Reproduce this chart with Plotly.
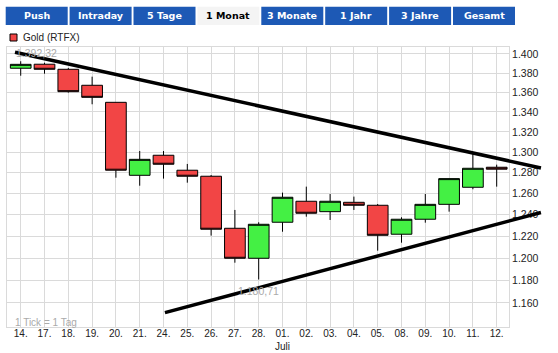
import math
import plotly.graph_objects as go

# ---------------- data ----------------
categories = ["14.", "17.", "18.", "19.", "20.", "21.", "24.", "25.", "26.", "27.", "28.",
              "01.", "02.", "03.", "04.", "05.", "08.", "09.", "10.", "11.", "12."]
open_ = [1385.0, 1389.2, 1383.9, 1367.3, 1349.8, 1277.4, 1296.9, 1282.3, 1276.5, 1227.3, 1199.8,
         1232.9, 1252.6, 1242.8, 1251.6, 1248.8, 1221.8, 1235.7, 1249.7, 1265.9, 1285.2]
high = [1392.32, 1390.8, 1385.3, 1376.2, 1349.8, 1301.1, 1301.1, 1288.4, 1277.7, 1244.4, 1232.9,
        1260.8, 1266.5, 1259.5, 1257.0, 1250.0, 1237.5, 1259.5, 1274.2, 1298.8, 1287.7]
low = [1377.2, 1379.3, 1359.7, 1347.8, 1275.1, 1267.4, 1274.2, 1270.3, 1220.5, 1195.8, 1180.71,
       1224.1, 1238.1, 1235.0, 1244.4, 1206.7, 1214.0, 1232.5, 1242.8, 1264.0, 1266.5]
close = [1389.1, 1383.9, 1360.7, 1354.9, 1282.3, 1292.9, 1288.1, 1276.5, 1226.4, 1199.8, 1231.0,
         1256.4, 1241.3, 1252.6, 1248.8, 1220.8, 1235.7, 1249.7, 1274.2, 1284.2, 1283.3]

y_ticks = [1160, 1180, 1200, 1220, 1240, 1260, 1280, 1300, 1320, 1340, 1360, 1380, 1400]
y_ticktext = ["1.160", "1.180", "1.200", "1.220", "1.240", "1.260", "1.280", "1.300",
              "1.320", "1.340", "1.360", "1.380", "1.400"]

# trend lines: (category index, price)
trend_upper_x = [-0.24, 21.86]
trend_upper_y = [1401.8, 1284.5]
trend_lower_x = [6.06, 21.86]
trend_lower_y = [1151.5, 1242.0]

tabs = ["Push", "Intraday", "5 Tage", "1 Monat", "3 Monate", "1 Jahr", "3 Jahre", "Gesamt"]
active_tab = "1 Monat"

series_name = "Gold (RTFX)"
max_label = "1.392,32"
min_label = "1.180,71"
month_label = "Juli"
month_index = 11
footnote = "1 Tick = 1 Tag"

# ---------------- layout geometry ----------------
W, H = 558, 353
L, R, T, B = 7, 49, 47, 26
PW, PH = W - L - R, H - T - B
x_range = [-0.576, 20.517]
y_range = [math.log10(1139.1), math.log10(1407.4)]

GREEN = "#44f044"
RED = "#f24545"
BLUE = "#1d59b5"
GRID = "#dadada"
FONT = "Liberation Sans, Arial, sans-serif"


def xp(px):
    return (px - L) / PW


def yp(py):
    return (T + PH - py) / PH


def data_x_paper(v):
    return (v - x_range[0]) / (x_range[1] - x_range[0])


def data_y_paper(v):
    return (math.log10(v) - y_range[0]) / (y_range[1] - y_range[0])


x_idx = list(range(len(categories)))
x_ticktext = [c + ("<br>" + month_label if i == month_index else "") for i, c in enumerate(categories)]

fig = go.Figure()
fig.add_trace(go.Candlestick(
    x=x_idx, open=open_, high=high, low=low, close=close,
    increasing=dict(fillcolor=GREEN, line=dict(color="black", width=1)),
    decreasing=dict(fillcolor=RED, line=dict(color="black", width=1)),
    whiskerwidth=0, hoverinfo="skip", showlegend=False, name=series_name,
))

shapes = []
annotations = []

# trend lines (paper coords so they can run past the plot edge)
for xs, ys in [(trend_upper_x, trend_upper_y), (trend_lower_x, trend_lower_y)]:
    shapes.append(dict(type="line", xref="paper", yref="paper",
                       x0=data_x_paper(xs[0]), y0=data_y_paper(ys[0]),
                       x1=data_x_paper(xs[1]), y1=data_y_paper(ys[1]),
                       line=dict(color="black", width=3.5), layer="above"))

# tabs
tab_left0, tab_step, tab_w = 5.7, 63.9, 62.0
for i, t in enumerate(tabs):
    x0 = tab_left0 + i * tab_step
    active = (t == active_tab)
    shapes.append(dict(type="rect", xref="paper", yref="paper",
                       x0=xp(x0), x1=xp(x0 + tab_w), y0=yp(25), y1=yp(6.7),
                       fillcolor="#f4f4f4" if active else BLUE, line=dict(width=0), layer="above"))
    annotations.append(dict(xref="paper", yref="paper", x=xp(x0 + tab_w / 2), y=yp(16),
                            text="<b>%s</b>" % t, showarrow=False, xanchor="center", yanchor="middle",
                            font=dict(family="Verdana, DejaVu Sans, sans-serif", size=9.5,
                                      color="black" if active else "white")))

# legend
shapes.append(dict(type="rect", xref="paper", yref="paper",
                   x0=xp(10), x1=xp(17), y0=yp(41), y1=yp(34),
                   fillcolor=RED, line=dict(color="black", width=1), layer="above"))
annotations.append(dict(xref="paper", yref="paper", x=xp(20.5), y=yp(37.7), text=series_name,
                        showarrow=False, xanchor="left", yanchor="middle",
                        font=dict(family=FONT, size=10, color="#222")))

# max / min labels
annotations.append(dict(x=0, y=math.log10(max(high)), text=max_label, showarrow=False,
                        xanchor="left", yanchor="bottom", xshift=-7, yshift=0,
                        font=dict(family=FONT, size=10.5, color="#aaaaaa")))
imin = low.index(min(low))
annotations.append(dict(x=imin, y=math.log10(min(low)), text=min_label, showarrow=False,
                        xanchor="center", yanchor="top", yshift=-3,
                        font=dict(family=FONT, size=10.5, color="#aaaaaa")))
# footnote
annotations.append(dict(xref="paper", yref="paper", x=xp(13), y=yp(322), text=footnote,
                        showarrow=False, xanchor="left", yanchor="middle",
                        font=dict(family=FONT, size=10, color="#aaaaaa")))

fig.update_layout(
    width=W, height=H, margin=dict(l=L, r=R, t=T, b=B, pad=0, autoexpand=False),
    paper_bgcolor="white", plot_bgcolor="white",
    boxgap=0.13, boxgroupgap=0, showlegend=False,
    shapes=shapes, annotations=annotations,
    font=dict(family=FONT, size=10, color="#222"),
    xaxis=dict(range=x_range, tickmode="array", tickvals=x_idx, ticktext=x_ticktext,
               showgrid=True, gridcolor=GRID, gridwidth=1, zeroline=False,
               showline=True, mirror=True, linecolor=GRID, linewidth=1, automargin=False,
               ticks="", ticklabelstandoff=-3, rangeslider=dict(visible=False), fixedrange=True,
               tickfont=dict(family=FONT, size=10, color="#222")),
    yaxis=dict(type="log", range=y_range, side="right", tickmode="array",
               tickvals=y_ticks, ticktext=y_ticktext, automargin=False,
               showgrid=True, gridcolor=GRID, gridwidth=1, zeroline=False,
               showline=True, mirror=True, linecolor=GRID, linewidth=1,
               ticks="", fixedrange=True,
               tickfont=dict(family=FONT, size=10.5, color="#222")),
)

fig.write_html("out.html", config={"displayModeBar": False})
